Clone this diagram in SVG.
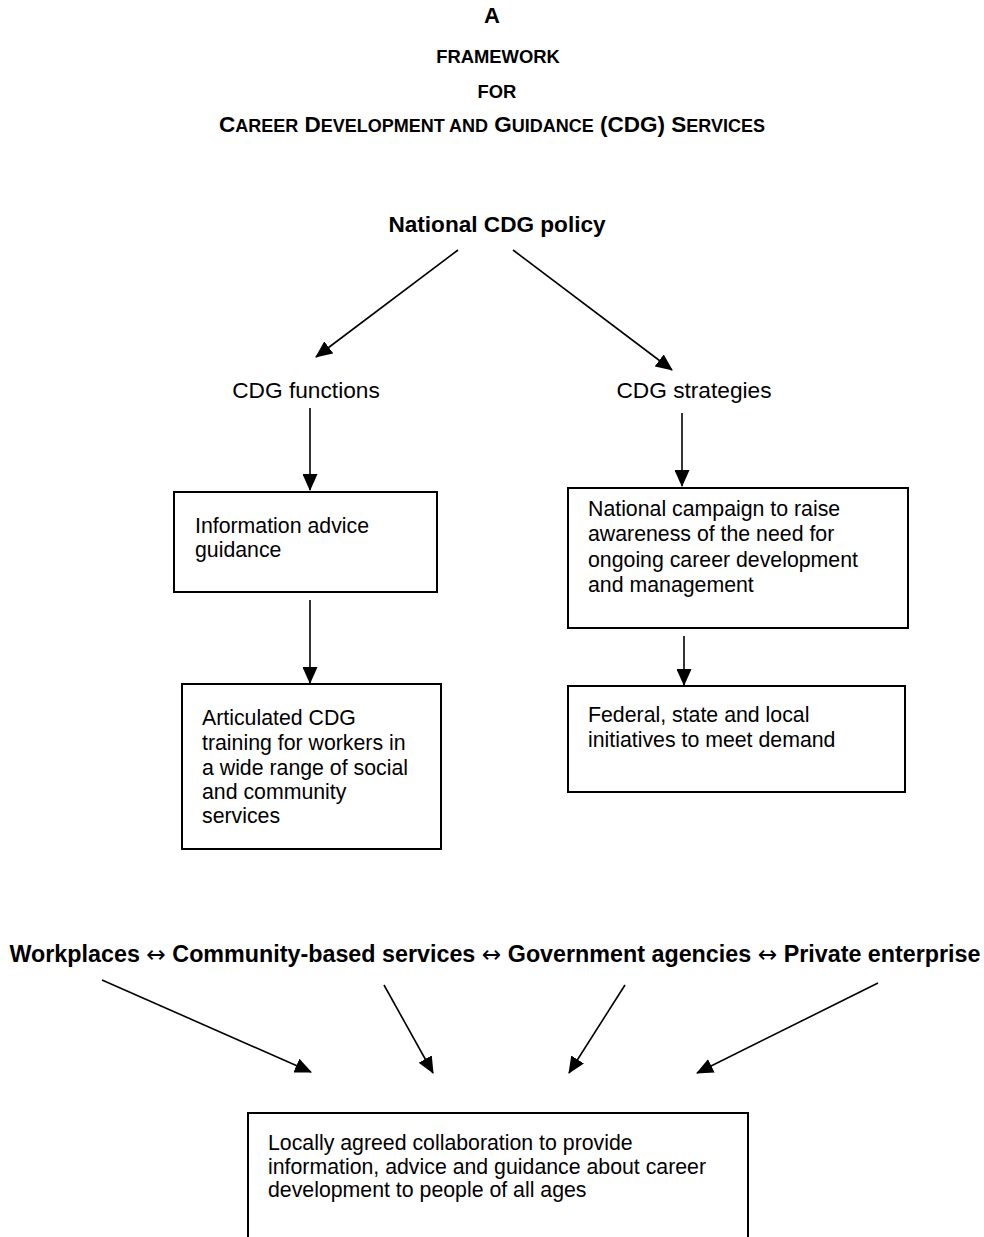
<svg xmlns="http://www.w3.org/2000/svg" width="984" height="1237" viewBox="0 0 984 1237">
<style>
text{font-family:"Liberation Sans",Arial,sans-serif;fill:#000}
.t{font-weight:bold;text-anchor:middle}
.b{font-size:22.6px;font-weight:bold;text-anchor:middle}
.r{font-size:22.7px;text-anchor:middle}
.x{font-size:21.3px}
.ar{font-family:"DejaVu Sans",sans-serif;font-weight:normal}
.box{fill:#fff;stroke:#000;stroke-width:2}
.c line{stroke:#000;stroke-width:1.6;marker-end:url(#ah)}
</style>
<defs>
<marker id="ah" markerWidth="17" markerHeight="15" refX="16" refY="7.5" orient="auto" markerUnits="userSpaceOnUse">
<path d="M0,0 L17,7.5 L0,15 Z" fill="#000"/>
</marker>
</defs>
<rect width="984" height="1237" fill="#fff"/>
<g id="title">
<text class="t" x="492" y="23" font-size="22">A</text>
<text class="t" x="498" y="63" font-size="18.4">FRAMEWORK</text>
<text class="t" x="497" y="98" font-size="18.4">FOR</text>
<text class="t" x="492" y="132" font-size="22.5">C<tspan font-size="18">AREER</tspan> D<tspan font-size="18">EVELOPMENT AND</tspan> G<tspan font-size="18">UIDANCE</tspan> (CDG) S<tspan font-size="18">ERVICES</tspan></text>
</g>
<g id="policy"><text class="b" x="497" y="232">National CDG policy</text></g>
<g id="functions"><text class="r" x="306" y="398">CDG functions</text></g>
<g id="strategies"><text class="r" x="694" y="398">CDG strategies</text></g>
<g id="box1">
<rect class="box" x="174" y="492" width="263" height="100"/>
<text class="x" x="195" y="533">Information advice</text>
<text class="x" x="195" y="557">guidance</text>
</g>
<g id="box2">
<rect class="box" x="568" y="488" width="340" height="140"/>
<text class="x" x="588" y="516">National campaign to raise</text>
<text class="x" x="588" y="541">awareness of the need for</text>
<text class="x" x="588" y="567">ongoing career development</text>
<text class="x" x="588" y="592">and management</text>
</g>
<g id="box3">
<rect class="box" x="182" y="684" width="259" height="165"/>
<text class="x" x="202" y="725">Articulated CDG</text>
<text class="x" x="202" y="750">training for workers in</text>
<text class="x" x="202" y="775">a wide range of social</text>
<text class="x" x="202" y="799">and community</text>
<text class="x" x="202" y="823">services</text>
</g>
<g id="box4">
<rect class="box" x="568" y="686" width="337" height="106"/>
<text class="x" x="588" y="722">Federal, state and local</text>
<text class="x" x="588" y="747">initiatives to meet demand</text>
</g>
<g id="partners"><text class="b" x="495" y="962" style="font-size:23.3px">Workplaces <tspan class="ar">↔</tspan> Community-based services <tspan class="ar">↔</tspan> Government agencies <tspan class="ar">↔</tspan> Private enterprise</text></g>
<g id="box5">
<rect class="box" x="248" y="1113" width="500" height="150"/>
<text class="x" x="268" y="1150">Locally agreed collaboration to provide</text>
<text class="x" x="268" y="1174">information, advice and guidance about career</text>
<text class="x" x="268" y="1197">development to people of all ages</text>
</g>
<g id="connectors" class="c">
<line x1="458" y1="250" x2="316" y2="357"/>
<line x1="513" y1="250" x2="672" y2="370"/>
<line x1="310" y1="408" x2="310" y2="490"/>
<line x1="682" y1="413" x2="682" y2="486"/>
<line x1="310" y1="600" x2="310" y2="683"/>
<line x1="684" y1="636" x2="684" y2="685"/>
<line x1="102" y1="980" x2="311" y2="1072"/>
<line x1="384" y1="985" x2="433" y2="1073"/>
<line x1="625" y1="985" x2="569" y2="1073"/>
<line x1="878" y1="983" x2="697" y2="1073"/>
</g>
</svg>
